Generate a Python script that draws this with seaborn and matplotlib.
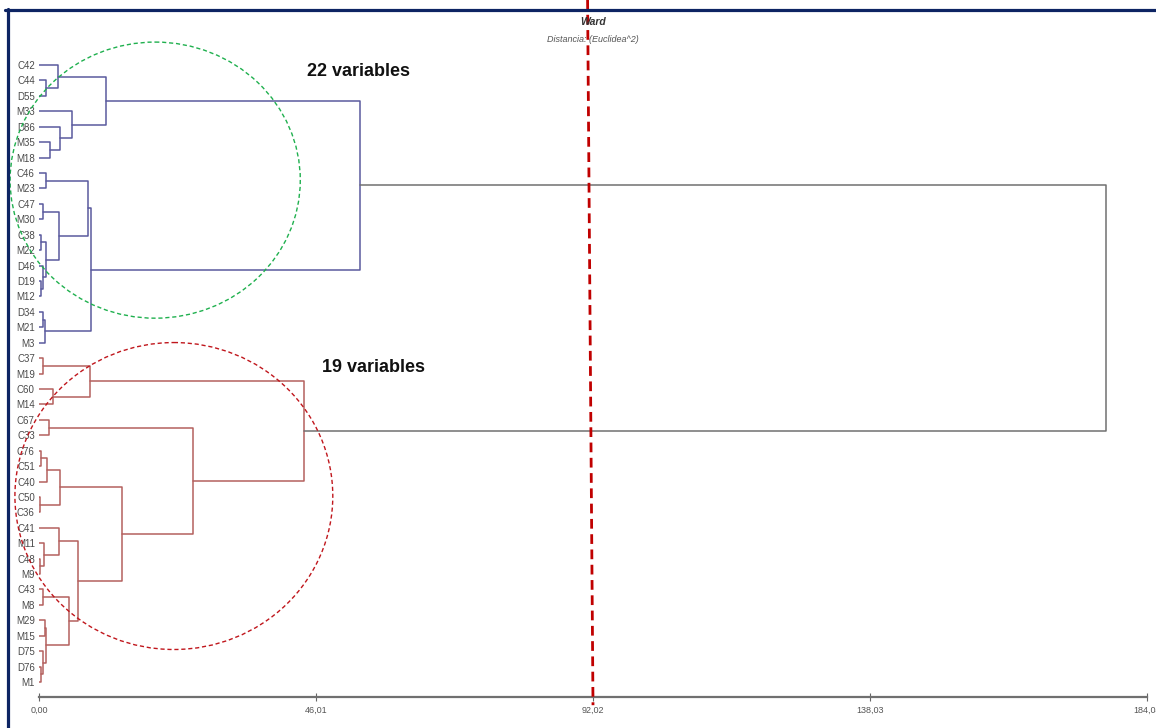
import numpy as np
import pandas as pd
import matplotlib
matplotlib.use("Agg")
import matplotlib.pyplot as plt
from matplotlib.patches import Ellipse
from matplotlib.lines import Line2D
from matplotlib import font_manager
import seaborn as sns

# ---- data -------------------------------------------------------------
leaf_labels = ["C42", "C44", "D55", "M33", "D86", "M35", "M18", "C46", "M23",
               "C47", "M30", "C38", "M22", "D46", "D19", "M12", "D34", "M21",
               "M3", "C37", "M19", "C60", "M14", "C67", "C33", "C76", "C51",
               "C40", "C50", "C36", "C41", "M11", "C48", "M9", "C43", "M8",
               "M29", "M15", "D75", "D76", "M1"]

# Ward linkage: node n+k joins merge_left[k] and merge_right[k] at merge_height[k]
merge_left = [1, 0, 5, 4, 3, 42, 7, 9, 11, 14, 13, 49, 48, 47, 16, 55, 54, 46,
              19, 21, 59, 23, 25, 63, 28, 64, 32, 31, 30, 34, 36, 39, 38, 71,
              70, 69, 66, 62, 61, 58]
merge_right = [2, 41, 6, 43, 44, 45, 8, 10, 12, 15, 50, 51, 52, 53, 17, 18, 56,
               57, 20, 22, 60, 24, 26, 27, 29, 65, 33, 67, 68, 35, 37, 40, 72,
               73, 74, 75, 76, 77, 78, 79]
merge_height = [1.2, 3.1, 1.8, 3.5, 5.4, 11.2, 1.2, 0.7, 0.3, 0.3, 0.7, 1.1,
                3.4, 8.1, 0.7, 1.0, 8.6, 53.3, 0.7, 2.3, 8.4, 1.7, 0.4, 1.3,
                0.1, 3.5, 0.2, 0.9, 3.3, 0.6, 1.0, 0.3, 0.6, 1.1, 4.9, 6.4,
                13.8, 25.6, 44.0, 177.2]

axis_ticks = [0.00, 46.01, 92.02, 138.03, 184.04]
axis_tick_labels = ["0,00", "46,01", "92,02", "138,03", "184,04"]
cut_level = 92.02
group_labels = ["22 variables", "19 variables"]
title_text = "Ward"
subtitle_text = "Distancia: (Euclidea^2)"

# ---- dendrogram geometry ---------------------------------------------
n = len(leaf_labels)
pos = {i: float(i) for i in range(n)}
hgt = {i: 0.0 for i in range(n)}
children = {}
for k, (a, b, h) in enumerate(zip(merge_left, merge_right, merge_height)):
    node = n + k
    pos[node] = (pos[a] + pos[b]) / 2
    hgt[node] = h
    children[node] = (a, b)

root = n + len(merge_height) - 1
group = {root: "root"}
for node in sorted(children, reverse=True):
    a, b = children[node]
    if node == root:
        group[a], group[b] = "top", "bottom"
    else:
        group[a] = group[b] = group[node]

rows = []
for node, (a, b) in children.items():
    h = hgt[node]
    for x, y in [(hgt[a], pos[a]), (h, pos[a]), (h, pos[b]), (hgt[b], pos[b])]:
        rows.append({"x": x, "y": y, "seg": node, "group": group[node]})
links = pd.DataFrame(rows)

# ---- figure -----------------------------------------------------------
sns.set_theme(style="white")
available = {f.name for f in font_manager.fontManager.ttflist}
base_font = "Liberation Sans" if "Liberation Sans" in available else "DejaVu Sans"
narrow_font = "Liberation Sans Narrow" if "Liberation Sans Narrow" in available else base_font
plt.rcParams["font.family"] = [base_font, "DejaVu Sans"]

W, H = 1156, 728
fig = plt.figure(figsize=(W / 100, H / 100), dpi=100, facecolor="white")

def fx(px):
    return px / W

def fy(py):
    return 1 - py / H

ax = fig.add_axes([fx(39), fy(697), fx(1147) - fx(39), fy(10) - fy(697)])
ax.set_facecolor("white")

palette = {"top": "#5a5a9e", "bottom": "#b4605e", "root": "#707070"}
sns.lineplot(data=links, x="x", y="y", units="seg", hue="group",
             estimator=None, sort=False, palette=palette, legend=False,
             linewidth=1.1, ax=ax)

ax.set_xlim(0, 184.04)
ax.set_ylim(40.97, -3.57)
ax.set_xlabel("")
ax.set_ylabel("")

ax.set_yticks(range(n))
ax.set_yticklabels(leaf_labels, fontsize=7, color="#4a4a4a", family=narrow_font)
ax.tick_params(axis="y", length=0, pad=3)

ax.set_xticks(axis_ticks)
ax.set_xticklabels(axis_tick_labels, fontsize=6.5, color="#555555", family=narrow_font)
ax.tick_params(axis="x", direction="inout", length=6, width=0.8,
               color="#666666", pad=3, bottom=True)

for side in ["top", "right", "left"]:
    ax.spines[side].set_visible(False)
ax.spines["bottom"].set_color("#707070")
ax.spines["bottom"].set_linewidth(1.6)

# cluster outlines
ax.add_patch(Ellipse((19.3, 7.46), 48.2, 17.9, fill=False, edgecolor="#1fb04e",
                     linestyle=(0, (3, 2)), linewidth=1.0, clip_on=False, zorder=5))
ax.add_patch(Ellipse((22.4, 27.94), 52.8, 19.9, fill=False, edgecolor="#c0161c",
                     linestyle=(0, (3, 2)), linewidth=1.0, clip_on=False, zorder=5))

# cut level line
ax.add_line(Line2D([cut_level - 0.9, cut_level], [-4.25, 41.5], color="#c00000",
                   linewidth=2.0, linestyle=(0, (3.5, 2)), clip_on=False, zorder=6))

# header text
fig.text(fx(593), fy(22), title_text, ha="center", va="center", fontsize=7.5,
         fontweight="bold", style="italic", color="#333333")
fig.text(fx(593), fy(40), subtitle_text, ha="center", va="center", fontsize=6.5,
         style="italic", color="#555555")

# group annotations
fig.text(fx(307), fy(72), group_labels[0], ha="left", va="center", fontsize=13,
         fontweight="bold", color="#111111")
fig.text(fx(322), fy(368), group_labels[1], ha="left", va="center", fontsize=13,
         fontweight="bold", color="#111111")

# frame
navy = "#0d2463"
fig.add_artist(Line2D([fx(5), 1.0], [fy(9.5), fy(9.5)], transform=fig.transFigure,
                      color=navy, linewidth=2.3, zorder=1))
fig.add_artist(Line2D([fx(8), fx(8)], [0.0, fy(8.5)], transform=fig.transFigure,
                      color=navy, linewidth=2.3, zorder=1))

fig.savefig("out.png", dpi=100, facecolor="white")
